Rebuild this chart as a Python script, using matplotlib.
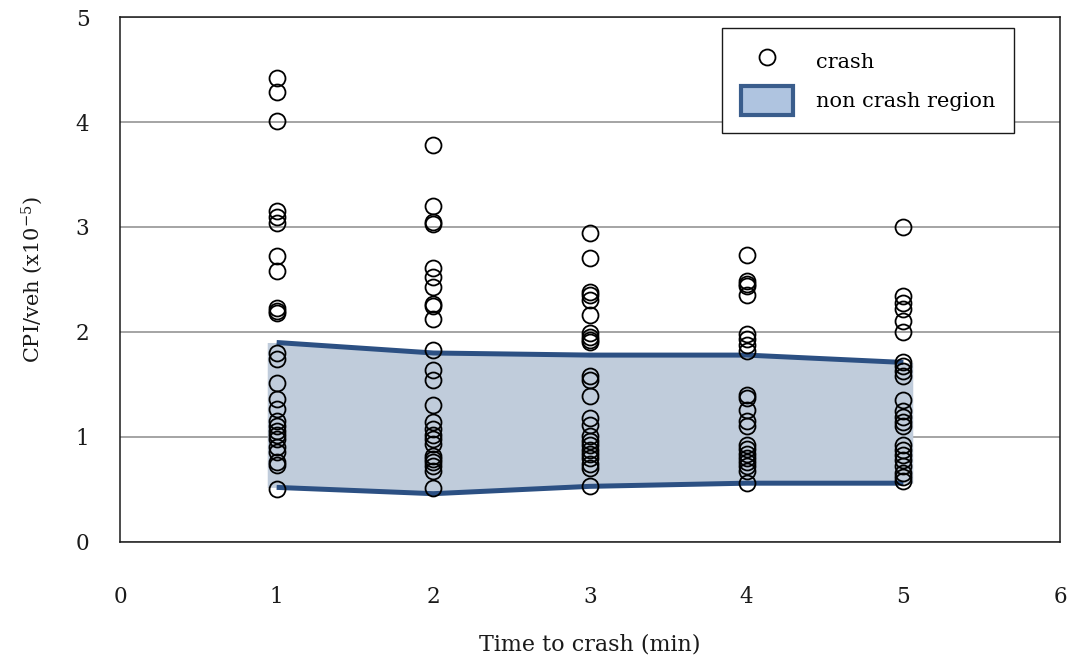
import numpy as np
import matplotlib
matplotlib.use("Agg")
import matplotlib.pyplot as plt
from matplotlib.patches import Patch
from matplotlib.lines import Line2D

# Crash CPI values per minute before the crash (x1e-5)
cpi_1min = [4.42, 4.29, 4.01, 3.15, 3.10, 3.04, 2.72, 2.58, 2.23, 2.20, 2.18,
            1.80, 1.74, 1.51, 1.36, 1.27, 1.15, 1.10, 1.06, 1.02, 0.98,
            0.90, 0.86, 0.76, 0.73, 0.50]
cpi_2min = [3.78, 3.20, 3.05, 3.03, 2.61, 2.52, 2.43, 2.27, 2.25, 2.12,
            1.83, 1.64, 1.54, 1.30, 1.14, 1.08, 1.02, 0.98, 0.93,
            0.82, 0.79, 0.76, 0.72, 0.68, 0.51]
cpi_3min = [2.94, 2.70, 2.38, 2.35, 2.30, 2.16, 1.99, 1.95, 1.92, 1.90,
            1.58, 1.54, 1.39, 1.18, 1.11, 1.01, 0.96, 0.92, 0.88, 0.84,
            0.80, 0.74, 0.70, 0.53]
cpi_4min = [2.73, 2.49, 2.46, 2.44, 2.35, 1.98, 1.93, 1.88, 1.82,
            1.40, 1.37, 1.26, 1.15, 1.10, 0.92, 0.89, 0.84, 0.80, 0.76,
            0.72, 0.68, 0.56]
cpi_5min = [3.00, 2.34, 2.28, 2.22, 2.10, 2.00, 1.71, 1.68, 1.63, 1.58,
            1.35, 1.25, 1.19, 1.14, 1.10, 0.92, 0.88, 0.83, 0.78, 0.72,
            0.66, 0.62, 0.58]

minutes = [1, 2, 3, 4, 5]
region_upper = [1.90, 1.80, 1.78, 1.78, 1.71]
region_lower = [0.52, 0.46, 0.53, 0.56, 0.56]

x_ticks = [0, 1, 2, 3, 4, 5, 6]
y_ticks = [0, 1, 2, 3, 4, 5]

plt.rcParams['font.family'] = ['DejaVu Serif']
plt.rcParams['mathtext.fontset'] = 'dejavuserif'

fig = plt.figure(figsize=(10.74, 6.62), dpi=100)
ax = fig.add_axes([0.1117, 0.1813, 0.8753, 0.7930])

line_col = '#2c5083'
fill_col = '#c0ccdb'

# non-crash band, padded slightly past the first and last minute
pad = 0.06
xf = np.concatenate([[minutes[0] - pad], minutes, [minutes[-1] + pad]])
up = np.concatenate([[region_upper[0]], region_upper, [region_upper[-1]]])
lo = np.concatenate([[region_lower[0]], region_lower, [region_lower[-1]]])
ax.fill_between(xf, lo, up, color=fill_col, lw=0, zorder=1)
ax.plot(minutes, region_upper, color=line_col, lw=3.6, solid_capstyle='butt', zorder=2)
ax.plot(minutes, region_lower, color=line_col, lw=3.6, solid_capstyle='butt', zorder=2)

for m, vals in zip(minutes, [cpi_1min, cpi_2min, cpi_3min, cpi_4min, cpi_5min]):
    ax.plot([m] * len(vals), vals, ls='none', marker='o', ms=11.5,
            mfc='none', mec='black', mew=1.3, zorder=3)

ax.set_xlim(0, 6)
ax.set_ylim(0, 5)
ax.set_xticks(x_ticks)
ax.set_yticks(y_ticks)
ax.yaxis.grid(True, color='#8c8c8c', lw=1.1, zorder=0)
ax.set_axisbelow(True)
ax.tick_params(axis='both', length=0, labelsize=15.5, colors='#1a1a1a')
ax.tick_params(axis='x', pad=32)
ax.tick_params(axis='y', pad=22)
for s in ax.spines.values():
    s.set_color('#1a1a1a')
    s.set_linewidth(1.1)

ax.set_xlabel('Time to crash (min)', fontsize=16, labelpad=18, color='#1a1a1a')
ax.set_ylabel(r'CPI/veh (x10$^{\mathregular{-5}}$)', fontsize=15, labelpad=22,
              color='#1a1a1a')

handles = [
    Line2D([], [], ls='none', marker='o', ms=11.5, mfc='none', mec='black', mew=1.3),
    Patch(facecolor='#afc4e0', edgecolor='#3a5d8c', linewidth=3),
]
leg = ax.legend(handles, ['crash', 'non crash region'], loc='upper right',
                bbox_to_anchor=(0.951, 0.979), fontsize=15, frameon=True,
                fancybox=False, framealpha=1, edgecolor='#1a1a1a',
                borderpad=0.9, handlelength=2.5, handleheight=1.74,
                labelspacing=0.5, handletextpad=1.1, borderaxespad=0)
leg.get_frame().set_linewidth(1.0)

fig.savefig('out.png', dpi=100)
